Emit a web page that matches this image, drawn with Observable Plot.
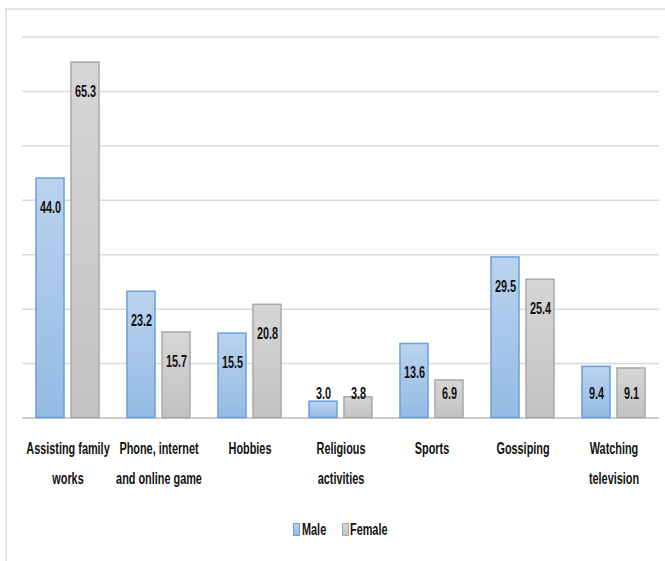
<!DOCTYPE html>
<html>
<head>
<meta charset="utf-8">
<script src="https://cdn.jsdelivr.net/npm/d3@7"></script>
<script src="https://cdn.jsdelivr.net/npm/@observablehq/plot@0.6"></script>
<style>
  body { margin: 0; background: #fff; }
  #wrap {
    position: relative; width: 665px; height: 561px; overflow: hidden; background: #fff;
    font-family: "Liberation Sans", Arial, sans-serif;
  }
  #frame {
    position: absolute; left: 5px; top: 8px; width: 700px; height: 600px;
    border-left: 2px solid #e4e4e4; border-top: 2px solid #e4e4e4;
  }
  #chart { position: absolute; left: 0; top: 0; }
  #legend { position: absolute; left: 0; top: 521px; width: 665px; height: 18px; }
  #legend .sw { position: absolute; top: 2px; width: 7px; height: 13px; box-sizing: border-box; }
  #legend .lab {
    position: absolute; top: 0; font-size: 16px; font-weight: bold; color: #111;
    line-height: 17px; white-space: nowrap; transform-origin: 0 50%;
  }
</style>
</head>
<body>
<div id="wrap">
  <div id="frame"></div>
  <div id="chart"></div>
  <div id="legend"></div>
</div>
<script>
// Leisure activities by sex (%)
const categories = ["Assisting family works", "Phone, internet and online game", "Hobbies",
  "Religious activities", "Sports", "Gossiping", "Watching television"];
const tickLabels = ["Assisting family\nworks", "Phone, internet\nand online game", "Hobbies",
  "Religious\nactivities", "Sports", "Gossiping", "Watching\ntelevision"];
const series = ["Male", "Female"];
const male = [44.0, 23.2, 15.5, 3.0, 13.6, 29.5, 9.4];
const female = [65.3, 15.7, 20.8, 3.8, 6.9, 25.4, 9.1];
const gridTicks = [10, 20, 30, 40, 50, 60, 70];

const rows = categories.flatMap((c, i) => [
  {category: c, sex: "Male", value: male[i]},
  {category: c, sex: "Female", value: female[i]}
]);

const seriesStyle = {
  Male: {fill: "url(#male-fill)", stroke: "#6b9fd8", top: "#bad2ee", bottom: "#94bbe4"},
  Female: {fill: "url(#female-fill)", stroke: "#a8a8a8", top: "#d6d6d6", bottom: "#c2c2c2"}
};

// condensed bold lettering: a horizontal squeeze of the regular bold face
const squeeze = 0.68;

const W = 665, marginLeft = 22, marginRight = 6;
const fxPadInner = 0.31, fxPadOuter = fxPadInner / 2;
// each facet's gridline reaches halfway into the gap on either side, so lines run unbroken
const fxStep = (W - marginLeft - marginRight) / categories.length;
const gridReach = -fxStep * fxPadInner / 2;

const chart = Plot.plot({
  width: W,
  height: 500,
  marginLeft,
  marginRight,
  marginTop: 36.5,
  marginBottom: 82.5,
  style: {fontFamily: '"Liberation Sans", Arial, sans-serif', background: "transparent"},
  fx: {domain: categories, paddingInner: fxPadInner, paddingOuter: fxPadOuter, axis: null, label: null},
  x: {domain: series, paddingInner: 0.2, paddingOuter: 0, axis: null},
  y: {domain: [0, 70], axis: null},
  marks: [
    Plot.ruleY(gridTicks, {stroke: "#dadada", strokeWidth: 1.5, insetLeft: gridReach, insetRight: gridReach}),
    Plot.ruleY([0], {stroke: "#cdcdcd", strokeWidth: 2, insetLeft: gridReach, insetRight: gridReach}),
    ...series.map(s => Plot.barY(rows.filter(d => d.sex === s), {
      fx: "category", x: "sex", y: "value",
      fill: seriesStyle[s].fill, stroke: seriesStyle[s].stroke, strokeWidth: 1.5
    })),
    // value labels sit just inside the bar top; short bars keep them above the baseline
    Plot.text(rows, {
      fx: "category", x: "sex", y: d => Math.max(d.value, 9.7), dy: 29,
      text: d => d.value.toFixed(1), fontSize: 16, fontWeight: "bold", fill: "#111"
    }),
    // category labels under each group
    Plot.text(categories, {
      fx: d => d, text: (d, i) => tickLabels[i], frameAnchor: "bottom",
      lineAnchor: "top", dy: 15, lineHeight: 1.88,
      fontSize: 16, fontWeight: "bold", fill: "#111"
    })
  ]
});

// vertical gradients for the bar fills
const defs = d3.select(chart).insert("defs", ":first-child");
for (const s of series) {
  const g = defs.append("linearGradient")
    .attr("id", s.toLowerCase() + "-fill")
    .attr("x1", 0).attr("y1", 0).attr("x2", 0).attr("y2", 1);
  g.append("stop").attr("offset", "0%").attr("stop-color", seriesStyle[s].top);
  g.append("stop").attr("offset", "100%").attr("stop-color", seriesStyle[s].bottom);
}
// narrow every label around its own anchor point
d3.select(chart).selectAll("text").each(function () {
  const t = this.getAttribute("transform") || "";
  this.setAttribute("transform", `${t} scale(${squeeze},1)`);
});
document.getElementById("chart").appendChild(chart);

// legend
const legendPos = {Male: {sw: 293, lab: 302}, Female: {sw: 342, lab: 350}};
const legend = d3.select("#legend");
for (const s of series) {
  legend.append("div").attr("class", "sw")
    .style("left", legendPos[s].sw + "px")
    .style("background", `linear-gradient(${seriesStyle[s].top}, ${seriesStyle[s].bottom})`)
    .style("border", `1px solid ${seriesStyle[s].stroke}`);
  legend.append("div").attr("class", "lab")
    .style("left", legendPos[s].lab + "px")
    .style("transform", `scaleX(${squeeze})`)
    .text(s);
}
</script>
</body>
</html>
